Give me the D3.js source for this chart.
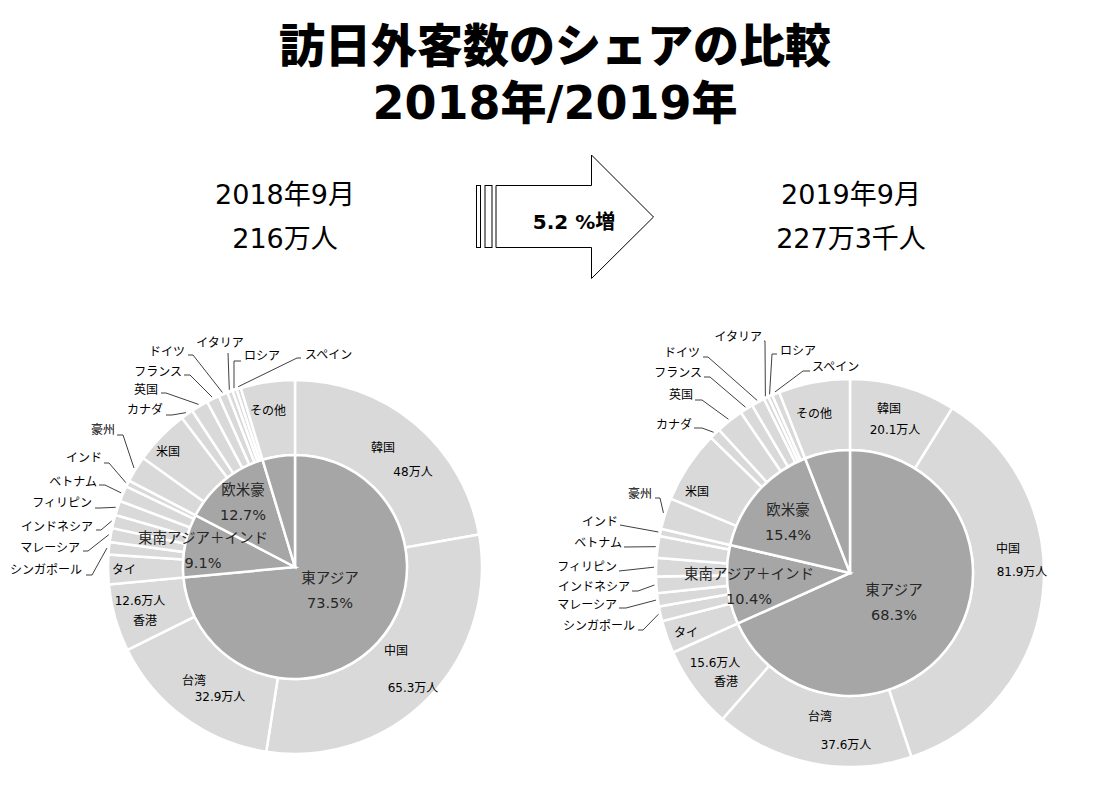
<!DOCTYPE html>
<html>
<head>
<meta charset="utf-8">
<script src="https://cdn.jsdelivr.net/npm/d3@7"></script>
<style>
  html, body { margin: 0; padding: 0; background: #fff; }
  svg text { font-family: 'DejaVu Sans', 'Noto Sans CJK JP', sans-serif; }
</style>
</head>
<body>
<svg id="chart" width="1111" height="794"></svg>
<script>
// ---- data ----
const titleLines = ["訪日外客数のシェアの比較", "2018年/2019年"];
const periods = ["2018年9月", "2019年9月"];
const totalsText = ["216万人", "227万3千人"];
const growthText = "5.2 %増";

const regions = ["東アジア", "東南アジア＋インド", "欧米豪", "その他"];
const countries = ["韓国", "中国", "台湾", "香港", "タイ", "シンガポール", "マレーシア", "インドネシア",
  "フィリピン", "ベトナム", "インド", "豪州", "米国", "カナダ", "英国", "フランス", "ドイツ",
  "イタリア", "ロシア", "スペイン", "その他"];
const countryRegion = [0, 0, 0, 0, 1, 1, 1, 1, 1, 1, 1, 2, 2, 2, 2, 2, 2, 2, 2, 2, 3];
// visitors, 万人
const visitors2018 = [48, 65.3, 32.9, 12.6, 5.5, 2.3, 2.6, 2.5, 2.7, 2.9, 1.2,
  4.9, 10.3, 2.3, 3.2, 2.4, 1.7, 1.0, 0.8, 0.8, 10.1];
const visitors2019 = [20.1, 81.9, 37.6, 15.6, 6.2, 2.8, 2.5, 3.1, 3.5, 4.1, 1.4,
  5.9, 13.7, 2.1, 5.2, 2.5, 2.5, 0.9, 0.8, 1.4, 13.5];

// ---- layout (label offsets from pie centre) ----
const pies = [
  {
    values: visitors2018, cx: 295, cy: 567, R: 187, r: 112,
    inside: {
      "韓国": [[88, -119, "name"], [118, -95, "value"]],
      "中国": [[101, 84, "name"], [118, 121, "value"]],
      "台湾": [[-101, 114, "name"], [-75, 130, "value"]],
      "香港": [[-150, 54, "name"], [-155, 34, "value"]],
      "タイ": [[-171, 3, "name"]],
      "米国": [[-127, -115, "name"]],
      "その他": [[-27, -156, "name"]]
    },
    // [text x, text y, anchor, leader start x, y, elbow x]
    outside: {
      "シンガポール": [-213, 3, "end", -209, 8, -203],
      "マレーシア": [-215, -19, "end", -212, -16, -207],
      "インドネシア": [-202, -40, "end", -199, -37, -194],
      "フィリピン": [-203, -64, "end", -200, -59, -195],
      "ベトナム": [-198, -85, "end", -196, -82, -190],
      "インド": [-193, -109, "end", -191, -104, -186],
      "豪州": [-180, -137, "end", -178, -132, -172],
      "カナダ": [-132, -157, "end", -129, -152, -123],
      "英国": [-137, -177, "end", -134, -174, -129],
      "フランス": [-113, -195, "end", -111, -192, -105],
      "ドイツ": [-110, -215, "end", -107, -212, -102],
      "イタリア": [-75, -224, "middle", -67, -214, -67],
      "ロシア": [-51, -211, "start", -54, -206, -61],
      "スペイン": [10, -212, "start", 6, -209, 2]
    },
    inner: [[35, 11], [-92, -29], [-52, -77]]
  },
  {
    values: visitors2019, cx: 850, cy: 573, R: 194, r: 123,
    inside: {
      "韓国": [[39, -164, "name"], [45, -143, "value"]],
      "中国": [[158, -24, "name"], [172, -1, "value"]],
      "台湾": [[-30, 144, "name"], [-4, 172, "value"]],
      "香港": [[-124, 109, "name"], [-135, 90, "value"]],
      "タイ": [[-164, 60, "name"]],
      "米国": [[-153, -81, "name"]],
      "その他": [[-36, -159, "name"]]
    },
    outside: {
      "シンガポール": [-215, 53, "end", -212, 57, -207],
      "マレーシア": [-233, 32, "end", -231, 35, -224],
      "インドネシア": [-220, 14, "end", -218, 18, -212],
      "フィリピン": [-233, -6, "end", -231, -2, -231],
      "ベトナム": [-228, -30, "end", -226, -26, -226],
      "インド": [-232, -51, "end", -230, -48, -230],
      "豪州": [-198, -79, "end", -195, -75, -190],
      "カナダ": [-158, -148, "end", -156, -145, -148],
      "英国": [-157, -178, "end", -155, -173, -148],
      "フランス": [-148, -200, "end", -146, -196, -140],
      "ドイツ": [-150, -220, "end", -147, -216, -142],
      "イタリア": [-88, -236, "end", -86, -232, -85],
      "ロシア": [-70, -222, "start", -73, -219, -78],
      "スペイン": [-38, -206, "start", -40, -202, -47]
    },
    inner: [[44, 17], [-101, 1], [-62, -63]]
  }
];

const svg = d3.select("#chart");

// title
svg.append("g").selectAll("text")
  .data(titleLines)
  .join("text")
  .attr("x", 555)
  .attr("y", (d, i) => 62 + i * 57)
  .attr("text-anchor", "middle")
  .style("font-size", "46px")
  .style("font-weight", "900")
  .text(d => d);

// period / total headings
[0, 1].forEach(i => {
  const x = pies[i].cx + (i === 0 ? -10 : 1);
  svg.append("g").selectAll("text")
    .data([periods[i], totalsText[i]])
    .join("text")
    .attr("x", x)
    .attr("y", (d, j) => 204 + j * 44)
    .attr("text-anchor", "middle")
    .style("font-size", "27px")
    .text(d => d);
});

// arrow
const arrow = svg.append("g").attr("fill", "#fff").attr("stroke", "#000").attr("stroke-width", 1);
arrow.append("rect").attr("x", 476.5).attr("y", 185.5).attr("width", 4).attr("height", 62);
arrow.append("rect").attr("x", 485).attr("y", 185.5).attr("width", 7).attr("height", 62);
arrow.append("path")
  .attr("d", d3.line()([[496, 185.5], [591.5, 185.5], [591.5, 155], [653.5, 217], [591.5, 278.5], [591.5, 247.5], [496, 247.5]]) + "Z");
svg.append("text").attr("x", 574).attr("y", 229).attr("text-anchor", "middle")
  .style("font-size", "20px").style("font-weight", "bold").text(growthText);

const pie = d3.pie().sort(null).value(d => d.value);
const fmtPct = d3.format(".1f");

pies.forEach(p => {
  const g = svg.append("g").attr("transform", `translate(${p.cx},${p.cy})`);
  const total = d3.sum(p.values);

  const outerData = countries.map((c, i) => ({ name: c, value: p.values[i], region: countryRegion[i] }));
  const innerData = regions.map((r, k) => ({
    name: r,
    value: d3.sum(outerData.filter(d => d.region === k), d => d.value)
  }));

  const outerArc = d3.arc().innerRadius(p.r).outerRadius(p.R);
  const innerArc = d3.arc().innerRadius(0).outerRadius(p.r);

  const outerArcs = pie(outerData);
  const innerArcs = pie(innerData);

  g.append("g").selectAll("path")
    .data(outerArcs)
    .join("path")
    .attr("d", outerArc)
    .attr("fill", "#d9d9d9")
    .attr("stroke", "#fff")
    .attr("stroke-width", 2.5);

  g.append("g").selectAll("path")
    .data(innerArcs)
    .join("path")
    .attr("d", innerArc)
    .attr("fill", "#a6a6a6")
    .attr("stroke", "#fff")
    .attr("stroke-width", 2.5);

  // labels inside outer ring
  const insideLabels = [];
  outerArcs.forEach(a => {
    const spec = p.inside[a.data.name];
    if (!spec) return;
    spec.forEach(s => insideLabels.push({
      x: s[0], y: s[1],
      text: s[2] === "name" ? a.data.name : a.data.value + "万人"
    }));
  });
  g.append("g").selectAll("text")
    .data(insideLabels)
    .join("text")
    .attr("x", d => d.x)
    .attr("y", d => d.y)
    .attr("dy", "0.35em")
    .attr("text-anchor", "middle")
    .style("font-size", "12px")
    .attr("fill", "#000")
    .text(d => d.text);

  // leader lines + outside labels
  const outs = outerArcs.filter(a => p.outside[a.data.name]);
  const rr = p.R + 2;
  g.append("g").selectAll("path")
    .data(outs)
    .join("path")
    .attr("fill", "none")
    .attr("stroke", "#404040")
    .attr("stroke-width", 1)
    .attr("d", a => {
      const s = p.outside[a.data.name];
      const mid = (a.startAngle + a.endAngle) / 2;
      return d3.line()([[s[3], s[4]], [s[5], s[4]], [rr * Math.sin(mid), -rr * Math.cos(mid)]]);
    });
  g.append("g").selectAll("text")
    .data(outs)
    .join("text")
    .attr("x", a => p.outside[a.data.name][0])
    .attr("y", a => p.outside[a.data.name][1])
    .attr("dy", "0.35em")
    .attr("text-anchor", a => p.outside[a.data.name][2])
    .style("font-size", "12px")
    .text(a => a.data.name);

  // inner ring labels (region + share)
  const innerLabels = [];
  innerArcs.slice(0, 3).forEach((a, k) => {
    innerLabels.push({ x: p.inner[k][0], y: p.inner[k][1], text: a.data.name });
    innerLabels.push({ x: p.inner[k][0], y: p.inner[k][1] + 25, text: fmtPct(a.data.value / total * 100) + "%" });
  });
  g.append("g").selectAll("text")
    .data(innerLabels)
    .join("text")
    .attr("x", d => d.x)
    .attr("y", d => d.y)
    .attr("dy", "0.35em")
    .attr("text-anchor", "middle")
    .style("font-size", "14.5px")
    .attr("fill", "#262626")
    .text(d => d.text);
});
</script>
</body>
</html>
